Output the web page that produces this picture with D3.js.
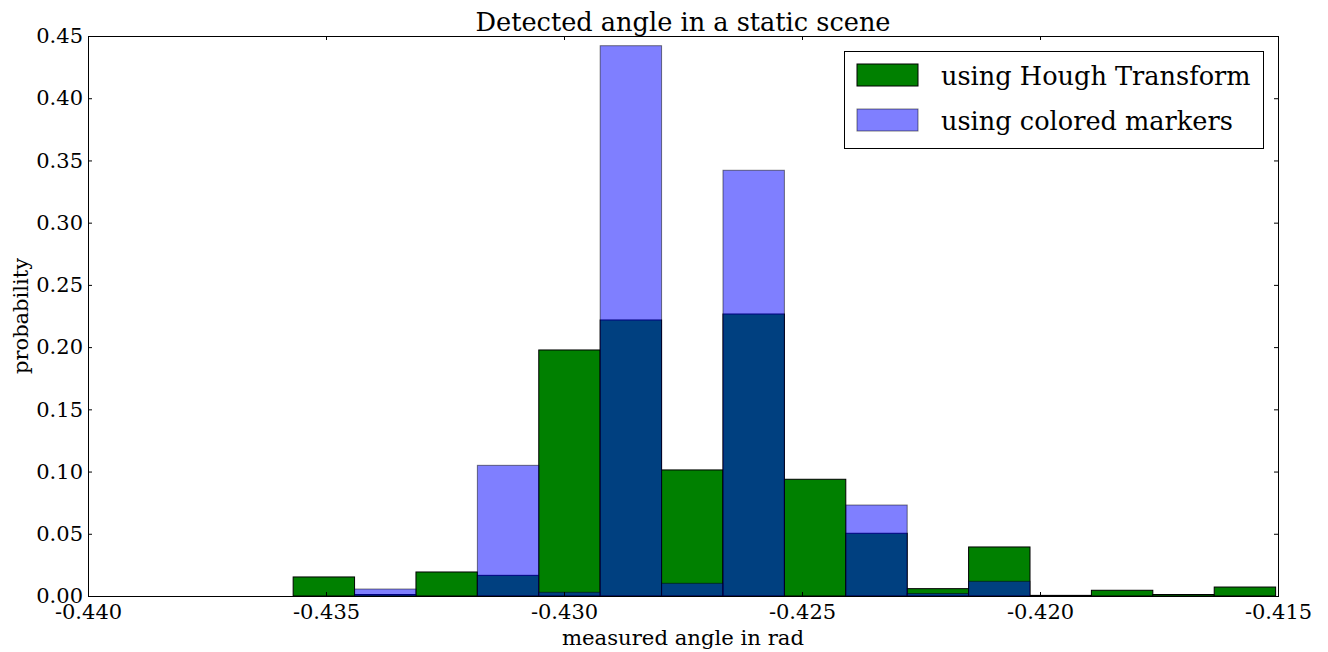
<!DOCTYPE html>
<html>
<head>
<meta charset="utf-8">
<script src="https://cdn.jsdelivr.net/npm/d3@7"></script>
<style>
  html, body { margin: 0; padding: 0; background: #fff; }
  svg { display: block; }
  text { font-family: "DejaVu Serif", serif; fill: #000; }
</style>
</head>
<body>
<svg id="chart" width="1328" height="652"></svg>
<script>
// Histogram bin edges (rad) shared by both series
const binEdges = [-0.43569, -0.43440, -0.43311, -0.43182, -0.43053, -0.42924, -0.42795,
                  -0.42666, -0.42537, -0.42408, -0.42279, -0.42150, -0.42021, -0.41892,
                  -0.41763, -0.41634, -0.41505];

// Probability per bin, Hough transform detection
const houghValues = [0.0153, 0.0012, 0.0193, 0.0166, 0.1977, 0.2218, 0.1013, 0.2266,
                     0.0938, 0.0504, 0.0059, 0.0394, 0.0005, 0.0046, 0.0012, 0.0072];

// Probability per bin, colored marker detection
const markerValues = [0, 0.0056, 0, 0.1050, 0.0030, 0.4422, 0.0102, 0.3421,
                      0, 0.0731, 0.0020, 0.0118, 0, 0, 0, 0];

const xTicks = [-0.440, -0.435, -0.430, -0.425, -0.420, -0.415];
const yTicks = [0, 0.05, 0.10, 0.15, 0.20, 0.25, 0.30, 0.35, 0.40, 0.45];

const seriesNames = ["using Hough Transform", "using colored markers"];
const titleText = "Detected angle in a static scene";
const xLabel = "measured angle in rad";
const yLabel = "probability";

const svg = d3.select("#chart");
const plotL = 88, plotR = 1278, plotT = 36, plotB = 596;

const x = d3.scaleLinear().domain([-0.440, -0.415]).range([plotL, plotR]);
const y = d3.scaleLinear().domain([0, 0.45]).range([plotB, plotT]);

const locale = d3.formatLocale({decimal: ".", thousands: ",", grouping: [3], currency: ["$", ""], minus: "-"});
const fx = locale.format(".3f");
const fy = locale.format(".2f");

const bins = (vals) => vals.map((v, i) => ({x0: binEdges[i], x1: binEdges[i + 1], v}));

// Hough transform bars
svg.append("g").selectAll("rect").data(bins(houghValues)).join("rect")
  .attr("x", d => x(d.x0))
  .attr("width", d => x(d.x1) - x(d.x0))
  .attr("y", d => y(d.v))
  .attr("height", d => y(0) - y(d.v))
  .attr("fill", "#008000")
  .attr("stroke", "#000")
  .attr("stroke-width", 1);

// Colored marker bars, semi-transparent on top
svg.append("g").selectAll("rect").data(bins(markerValues)).join("rect")
  .attr("x", d => x(d.x0))
  .attr("width", d => x(d.x1) - x(d.x0))
  .attr("y", d => y(d.v))
  .attr("height", d => y(0) - y(d.v))
  .attr("fill", "#0000ff")
  .attr("fill-opacity", 0.5)
  .attr("stroke", "#000")
  .attr("stroke-opacity", 0.5)
  .attr("stroke-width", 1);

// Frame
svg.append("rect")
  .attr("x", plotL + 0.5).attr("y", plotT + 0.5)
  .attr("width", plotR - plotL).attr("height", plotB - plotT)
  .attr("fill", "none").attr("stroke", "#000").attr("stroke-width", 1);

// Axes with inward ticks on all four sides
const tickLen = 4;
svg.append("g").attr("transform", `translate(0,${plotB})`)
  .call(d3.axisBottom(x).tickValues(xTicks).tickFormat(fx).tickSizeInner(-tickLen).tickSizeOuter(0).tickPadding(8))
  .call(g => g.select(".domain").remove())
  .call(g => g.selectAll("text").attr("font-size", 21).attr("font-family", "DejaVu Serif"));
svg.append("g").attr("transform", `translate(0,${plotT})`)
  .call(d3.axisTop(x).tickValues(xTicks).tickFormat("").tickSizeInner(-tickLen).tickSizeOuter(0))
  .call(g => g.select(".domain").remove());
svg.append("g").attr("transform", `translate(${plotL},0)`)
  .call(d3.axisLeft(y).tickValues(yTicks).tickFormat(fy).tickSizeInner(-tickLen).tickSizeOuter(0).tickPadding(5))
  .call(g => g.select(".domain").remove())
  .call(g => g.selectAll("text").attr("font-size", 21).attr("font-family", "DejaVu Serif"));
svg.append("g").attr("transform", `translate(${plotR},0)`)
  .call(d3.axisRight(y).tickValues(yTicks).tickFormat("").tickSizeInner(-tickLen).tickSizeOuter(0))
  .call(g => g.select(".domain").remove());
svg.selectAll(".tick line").attr("stroke", "#000");

// Title and axis labels
svg.append("text").attr("x", (plotL + plotR) / 2).attr("y", 31)
  .attr("text-anchor", "middle").attr("font-size", 25.6).text(titleText);
svg.append("text").attr("x", (plotL + plotR) / 2).attr("y", 645)
  .attr("text-anchor", "middle").attr("font-size", 21.2).text(xLabel);
svg.append("text").attr("transform", `translate(28,${(plotT + plotB) / 2}) rotate(-90)`)
  .attr("text-anchor", "middle").attr("font-size", 21).text(yLabel);

// Legend
const lg = svg.append("g");
lg.append("rect").attr("x", 844.5).attr("y", 51.5).attr("width", 419).attr("height", 97)
  .attr("fill", "#fff").attr("stroke", "#000").attr("stroke-width", 1);
const legendItems = [
  {name: seriesNames[0], fill: "#008000", stroke: "#000", opacity: 1},
  {name: seriesNames[1], fill: "#0000ff", stroke: "#000", opacity: 0.5}
];
legendItems.forEach((it, i) => {
  const cy = 75 + i * 45;
  lg.append("rect").attr("x", 857).attr("y", cy - 11).attr("width", 61).attr("height", 22)
    .attr("fill", it.fill).attr("stroke", it.stroke)
    .attr("fill-opacity", it.opacity).attr("stroke-opacity", it.opacity);
  lg.append("text").attr("x", 941).attr("y", cy + 10).attr("font-size", 25.6).text(it.name);
});
</script>
</body>
</html>
